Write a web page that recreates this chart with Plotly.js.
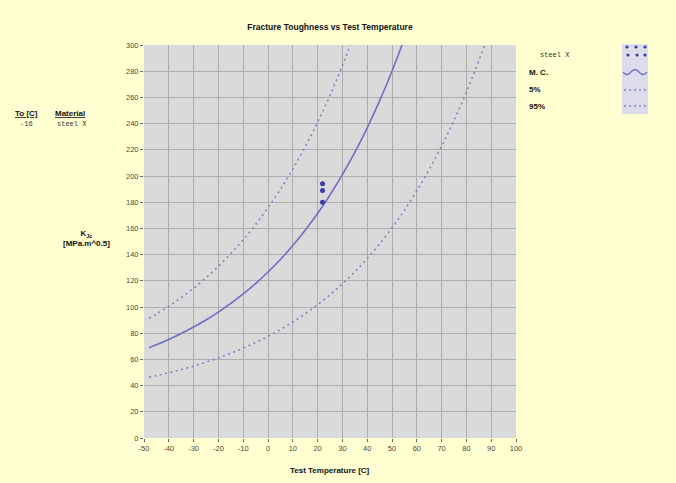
<!DOCTYPE html>
<html><head><meta charset="utf-8">
<script src="https://cdn.plot.ly/plotly-3.0.1.min.js"></script>
<style>html,body{margin:0;padding:0;background:#ffffd2;}#chart{width:676px;height:483px;}</style>
</head><body><div id="chart"></div>
<script>
// ---- data ----
const temps = [-48,-45,-40,-35,-30,-25,-20,-15,-10,-5,0,5,10,15,20,25,30,35,40,45,50,55];
const medianK = [68.8,71.1,75.2,79.7,84.7,90.1,96.1,102.7,110.0,117.9,126.7,136.3,146.9,158.6,171.4,185.5,201.0,218.0,236.8,257.4,280.0,304.9];
const temps95 = [-48,-45,-40,-35,-30,-25,-20,-15,-10,-5,0,5,10,15,20,25,30,35];
const upper95K = [91.3,94.6,100.6,107.2,114.4,122.4,131.1,140.8,151.3,163.0,175.8,189.8,205.3,222.3,241.0,261.6,284.2,309.1];
const temps5 = [-48,-45,-40,-35,-30,-25,-20,-15,-10,-5,0,5,10,15,20,25,30,35,40,45,50,55,60,65,70,75,80,85,90];
const lower5K = [46.4,47.6,49.8,52.3,54.9,57.9,61.1,64.7,68.6,72.9,77.6,82.8,88.5,94.8,101.8,109.4,117.7,126.9,137.0,148.2,160.4,173.9,188.7,204.9,222.8,242.5,264.1,287.9,314.1];
const testT = [22,22,22];
const testK = [194,189,180];
const xTicks = [-50,-40,-30,-20,-10,0,10,20,30,40,50,60,70,80,90,100];
const yTicks = [0,20,40,60,80,100,120,140,160,180,200,220,240,260,280,300];
const titleText = "Fracture Toughness vs Test Temperature";
const xTitle = "Test Temperature [C]";
const yTitle = "K<sub>Jc</sub><br>[MPa.m^0.5]";
const materialName = "steel X";
const T0text = "-16";
const legendLabels = ["M. C.","5%","95%"];

// ---- layout helpers (pixel -> paper) ----
const L=144, R=160, T=45, B=45, W=676, H=483;
const pw = W-L-R, ph = H-T-B;
const px = p => (p-L)/pw;
const py = p => (H-B-p)/ph;

const narrow = "Liberation Sans Narrow, Liberation Sans, Arial, sans-serif";
const mono = "Liberation Mono, DejaVu Sans Mono, monospace";
const lineCol = "#6e6ec8";
const dotCol = "#8484c2";

const traces = [
  {x: temps, y: medianK, mode:'lines', line:{color:lineCol, width:1.6, shape:'spline'}, hoverinfo:'skip'},
  {x: temps95, y: upper95K, mode:'lines', line:{color:dotCol, width:1.6, dash:'2px,3.5px', shape:'spline'}, hoverinfo:'skip'},
  {x: temps5, y: lower5K, mode:'lines', line:{color:dotCol, width:1.6, dash:'2px,3.5px', shape:'spline'}, hoverinfo:'skip'},
  {x: testT, y: testK, mode:'markers', marker:{color:'#3a3aa8', size:5}, hoverinfo:'skip'}
];

const bold = (sz,c) => ({family:narrow, size:sz||8, color:c||'#111'});
const ann = [];
function A(text,x,y,font,anchor){ann.push({text:text, xref:'paper', yref:'paper', x:px(x), y:py(y), showarrow:false, xanchor:anchor||'center', yanchor:'middle', font:font});}
A('<b>'+xTitle+'</b>', L+pw/2, 470, bold(8));
A('<b>'+yTitle+'</b>', 86, 238, bold(8));
A('<b><u>To [C]</u></b>', 26, 114, bold(8));
A('<b><u>Material</u></b>', 70, 114, bold(8));
A(T0text, 26, 124, {family:mono, size:7, color:'#333'});
A(materialName, 72, 124, {family:mono, size:7, color:'#333'});
A(materialName, 555, 55, {family:mono, size:7, color:'#333'});
A('<b>'+legendLabels[0]+'</b>', 527, 73, bold(8), 'left');
A('<b>'+legendLabels[1]+'</b>', 527, 90, bold(8), 'left');
A('<b>'+legendLabels[2]+'</b>', 527, 107, bold(8), 'left');

const shapes = [
  {type:'rect', xref:'paper', yref:'paper', x0:px(622), x1:px(648), y0:py(44), y1:py(114), fillcolor:'#dcdcea', line:{width:0}, layer:'below'},
  {type:'path', xref:'paper', yref:'paper', path:(function(){
      let s=''; for(let i=0;i<=24;i++){const xx=px(623+i); const yy=py(72+2.5*Math.sin(i/24*2*Math.PI*1.5)); s+=(i?'L':'M')+xx+','+yy;} return s;})(),
    line:{color:lineCol, width:1.4}},
  {type:'line', xref:'paper', yref:'paper', x0:px(624), x1:px(647), y0:py(90), y1:py(90), line:{color:dotCol, width:1.4, dash:'2px,3px'}},
  {type:'line', xref:'paper', yref:'paper', x0:px(624), x1:px(647), y0:py(106), y1:py(106), line:{color:dotCol, width:1.4, dash:'2px,3px'}}
];
[[627,47],[636,47],[645,47],[628,55],[637,55],[645,55]].forEach(p=>{
  shapes.push({type:'circle', xref:'paper', yref:'paper', x0:px(p[0]-1.6), x1:px(p[0]+1.6), y0:py(p[1]+1.6), y1:py(p[1]-1.6), fillcolor:'#3a3aa8', line:{width:0}});
});

const layout = {
  width:W, height:H, margin:{l:L, r:R, t:T, b:B, pad:0},
  paper_bgcolor:'#ffffd2', plot_bgcolor:'#dadada', showlegend:false,
  title:{text:'<b>'+titleText+'</b>', x:0.5, xref:'paper', xanchor:'center', y:1-27/H, yref:'container', yanchor:'middle', font:{family:narrow, size:8.5, color:'#111'}},
  xaxis:{range:[-50,100], tickvals:xTicks, ticktext:xTicks.map(String), showgrid:true, gridcolor:'#adadad', gridwidth:1, zeroline:false,
    ticks:'outside', ticklen:3, tickcolor:'#666', showline:false, tickfont:{family:narrow, size:7.5, color:'#4a4a3a'}, fixedrange:true},
  yaxis:{range:[0,300], tickvals:yTicks, ticktext:yTicks.map(String), showgrid:true, gridcolor:'#adadad', gridwidth:1, zeroline:false,
    ticks:'outside', ticklen:3, tickcolor:'#666', showline:false, tickfont:{family:narrow, size:7.5, color:'#4a4a3a'}, fixedrange:true},
  annotations: ann, shapes: shapes
};
Plotly.newPlot('chart', traces, layout, {staticPlot:true, displayModeBar:false});
</script></body></html>
